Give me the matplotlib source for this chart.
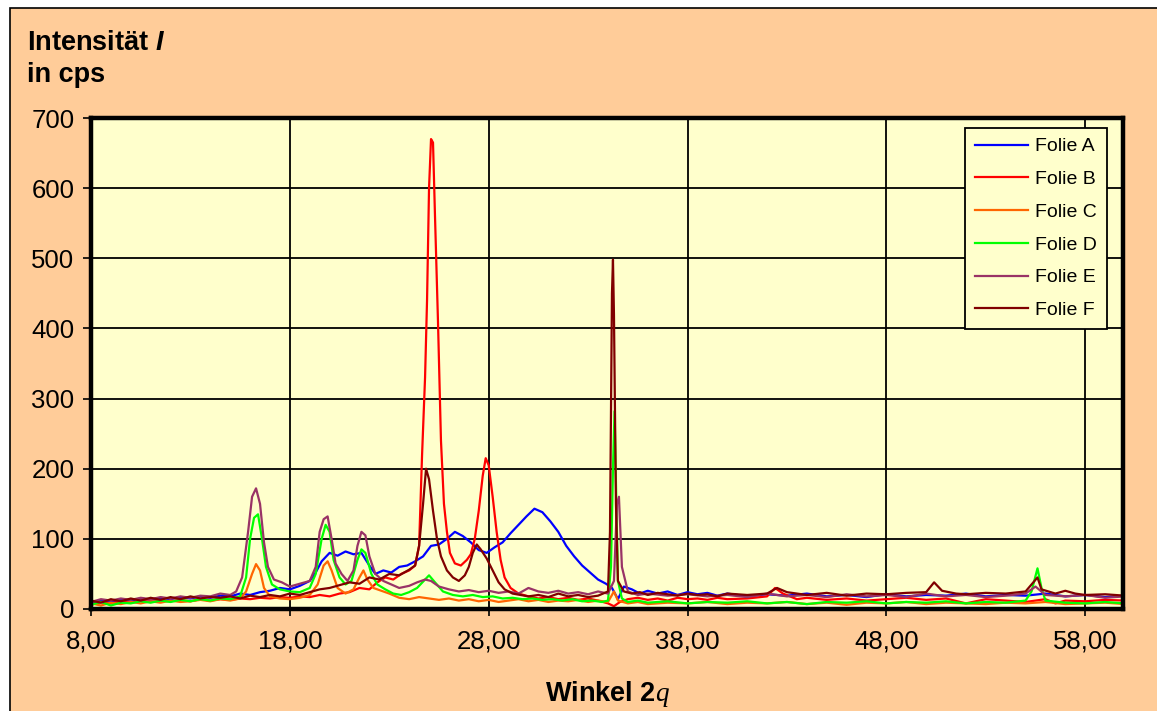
import matplotlib
matplotlib.use("Agg")
from matplotlib import pyplot as plt
from matplotlib.patches import Rectangle
from matplotlib.ticker import FuncFormatter

# Folie A (blau)
a_x = [8.0, 8.5, 9.0, 9.5, 10.0, 10.5, 11.0, 11.5, 12.0, 12.5, 13.0, 13.5, 14.0, 14.5, 15.0, 15.5,
       16.0, 16.5, 17.0, 17.5, 18.0, 18.5, 19.0, 19.3, 19.6, 20.0, 20.4, 20.8, 21.2, 21.6, 22.0, 22.3,
       22.7, 23.1, 23.5, 23.9, 24.3, 24.7, 25.1, 25.5, 25.9, 26.3, 26.7, 27.1, 27.5, 27.9, 28.3, 28.7,
       29.1, 29.5, 29.9, 30.3, 30.7, 31.1, 31.5, 31.9, 32.3, 32.7, 33.1, 33.5, 33.9, 34.2, 34.5, 34.8,
       35.2, 35.6, 36.0, 36.5, 37.0, 37.5, 38.0, 38.5, 39.0, 39.5, 40, 41, 42, 43, 44, 45, 46, 47, 48,
       49, 50, 51, 52, 53, 54, 55, 56, 57, 58, 59, 60]
a_y = [8, 12, 10, 13, 12, 15, 13, 16, 14, 17, 15, 18, 16, 19, 18, 22,
       20, 24, 26, 30, 28, 33, 40, 52, 68, 80, 76, 82, 78, 80, 62, 50,
       55, 52, 60, 62, 68, 75, 90, 92, 100, 110, 104, 95, 84, 80, 88, 95,
       108, 120, 132, 143, 138, 125, 110, 90, 75, 62, 52, 42, 36, 30, 14, 32,
       28, 22, 26, 22, 25, 20, 24, 21, 23, 19, 22, 18, 21, 19, 22, 18, 20, 17, 21,
       18, 20, 19, 22, 18, 20, 19, 22, 18, 20, 17, 19]

# Folie B (rot)
b_x = [8.0, 8.5, 9.0, 9.5, 10.0, 10.5, 11.0, 11.5, 12.0, 12.5, 13.0, 13.5, 14.0, 14.5, 15.0, 15.5,
       16.0, 16.5, 17.0, 17.5, 18.0, 18.5, 19.0, 19.5, 20.0, 20.5, 21.0, 21.5, 22.0, 22.4, 22.8, 23.2,
       23.6, 24.0, 24.3, 24.5, 24.65, 24.8, 24.9, 25.0, 25.1, 25.2, 25.3, 25.45, 25.6, 25.75, 25.9,
       26.05, 26.3, 26.6, 26.9, 27.1, 27.3, 27.5, 27.7, 27.85, 28.0, 28.2, 28.4, 28.6, 28.8, 29.1,
       29.5, 30.0, 30.5, 31.0, 31.5, 32.0, 32.5, 33.0, 33.5, 34.0, 34.3, 34.6, 35.0, 35.5, 36.0, 36.5,
       37.0, 37.5, 38.0, 38.5, 39.0, 39.5, 40, 41, 42, 42.4, 42.8, 43.5, 44, 45, 46, 47, 48, 49, 50,
       51, 52, 53, 54, 55, 56, 56.5, 57, 58, 59, 60]
b_y = [6, 10, 8, 11, 9, 12, 10, 12, 11, 13, 11, 14, 12, 14, 13, 15,
       14, 16, 15, 17, 16, 18, 17, 20, 18, 22, 24, 30, 28, 38, 45, 42,
       50, 55, 62, 90, 220, 330, 440, 600, 670, 665, 560, 410, 240, 150, 110,
       80, 65, 62, 70, 78, 100, 140, 190, 215, 205, 160, 110, 70, 45, 30,
       22, 18, 15, 17, 14, 16, 13, 15, 12, 8, 4, 10, 14, 16, 13, 15,
       12, 16, 14, 15, 13, 16, 14, 15, 18, 30, 22, 14, 16, 13, 15, 12, 14, 16, 13,
       15, 8, 14, 12, 10, 14, 8, 12, 11, 13, 12]

# Folie C (orange)
c_x = [8.0, 8.5, 9.0, 9.5, 10.0, 10.5, 11.0, 11.5, 12.0, 12.5, 13.0, 13.5, 14.0, 14.5, 15.0, 15.5,
       15.8, 16.1, 16.3, 16.5, 16.7, 17.0, 17.5, 18.0, 18.5, 19.0, 19.4, 19.7, 19.9, 20.1, 20.4, 20.8,
       21.2, 21.5, 21.7, 21.9, 22.2, 22.6, 23.0, 23.5, 24.0, 24.5, 25.0, 25.5, 26.0, 26.5, 27.0, 27.5,
       28.0, 28.5, 29.0, 29.5, 30.0, 30.5, 31.0, 31.5, 32.0, 32.5, 33.0, 33.5, 34.0, 34.3, 34.5, 35.0,
       35.5, 36, 37, 38, 39, 40, 41, 42, 43, 44, 45, 46, 47, 48, 49, 50, 51, 52, 53, 54, 55, 56, 57,
       58, 59, 60]
c_y = [8, 5, 9, 7, 10, 8, 11, 9, 12, 10, 11, 13, 11, 14, 12, 15,
       25, 50, 64, 55, 30, 18, 15, 14, 16, 20, 35, 62, 68, 55, 30, 22,
       28, 45, 55, 42, 30, 26, 22, 16, 14, 17, 15, 13, 15, 12, 14, 11,
       13, 10, 12, 14, 11, 13, 10, 12, 11, 13, 10, 12, 10, 25, 12, 8,
       10, 7, 9, 8, 10, 7, 9, 8, 10, 7, 9, 6, 9, 8, 10, 7, 9, 8, 7, 9, 8, 10, 7,
       8, 9, 7]

# Folie D (gruen)
d_x = [8.0, 8.5, 9.0, 9.5, 10.0, 10.5, 11.0, 11.5, 12.0, 12.5, 13.0, 13.5, 14.0, 14.5, 15.0, 15.5,
       15.8, 16.0, 16.2, 16.4, 16.6, 16.8, 17.1, 17.5, 18.0, 18.5, 19.0, 19.3, 19.6, 19.8, 20.0, 20.2,
       20.5, 20.8, 21.1, 21.4, 21.6, 21.8, 22.1, 22.4, 22.8, 23.2, 23.6, 24.0, 24.4, 24.8, 25.0, 25.3,
       25.7, 26.2, 26.7, 27.2, 27.7, 28.2, 28.7, 29.2, 29.7, 30.2, 30.7, 31.2, 31.7, 32.2, 32.7, 33.2,
       33.7, 34.0, 34.15, 34.25, 34.33, 34.4, 34.5, 34.7, 35.0, 35.5, 36, 37, 38, 39, 40, 41, 42, 43,
       44, 45, 46, 47, 48, 49, 50, 51, 52, 53, 54, 55, 55.3, 55.6, 55.8, 56, 57, 58, 59, 60]
d_y = [6, 10, 5, 9, 8, 11, 9, 12, 10, 13, 11, 14, 12, 15, 14, 18,
       45, 100, 130, 135, 100, 60, 35, 28, 25, 24, 30, 50, 100, 120, 110, 70,
       45, 35, 40, 70, 85, 80, 50, 35, 28, 22, 20, 24, 30, 42, 48, 38,
       25, 20, 18, 20, 17, 18, 15, 16, 14, 15, 13, 14, 12, 14, 11, 12,
       10, 12, 60, 200, 282, 180, 40, 15, 10, 12, 9, 11, 8, 10, 9, 11, 8, 10,
       7, 10, 9, 11, 8, 10, 9, 11, 8, 10, 9, 12, 25, 58, 30, 12, 9, 8, 10, 8]

# Folie E (violett)
e_x = [8.0, 8.5, 9.0, 9.5, 10.0, 10.5, 11.0, 11.5, 12.0, 12.5, 13.0, 13.5, 14.0, 14.5, 15.0, 15.3,
       15.6, 15.9, 16.1, 16.3, 16.5, 16.7, 16.9, 17.2, 17.6, 18.0, 18.5, 19.0, 19.3, 19.5, 19.7, 19.9,
       20.1, 20.3, 20.6, 20.9, 21.2, 21.4, 21.6, 21.8, 22.0, 22.3, 22.7, 23.1, 23.5, 24.0, 24.4, 24.8,
       25.1, 25.5, 26.0, 26.5, 27.0, 27.5, 28.0, 28.5, 29.0, 29.5, 30.0, 30.5, 31.0, 31.5, 32.0, 32.5,
       33.0, 33.5, 34.0, 34.3, 34.45, 34.55, 34.7, 35.0, 35.5, 36, 37, 38, 39, 40, 41, 42, 43, 44, 45,
       46, 47, 48, 49, 50, 51, 52, 53, 54, 55, 55.5, 56, 57, 58, 59, 60]
e_y = [10, 14, 12, 15, 13, 16, 14, 17, 15, 18, 16, 19, 18, 22, 20, 25,
       45, 110, 160, 172, 150, 95, 60, 42, 38, 32, 36, 40, 60, 110, 128, 132,
       100, 65, 50, 40, 55, 90, 110, 105, 75, 50, 40, 35, 30, 33, 38, 42,
       40, 32, 28, 25, 27, 24, 26, 23, 25, 22, 30, 25, 23, 26, 22, 24,
       21, 25, 22, 40, 150, 160, 60, 25, 20, 22, 19, 21, 18, 20, 17, 22, 18, 20, 17,
       21, 18, 20, 17, 22, 18, 20, 17, 19, 22, 32, 20, 18, 20, 16, 18]

# Folie F (dunkelrot)
f_x = [8.0, 8.5, 9.0, 9.5, 10.0, 10.5, 11.0, 11.5, 12.0, 12.5, 13.0, 13.5, 14.0, 14.5, 15.0, 15.5,
       16.0, 16.5, 17.0, 17.5, 18.0, 18.5, 19.0, 19.5, 20.0, 20.5, 21.0, 21.5, 22.0, 22.5, 23.0, 23.5,
       24.0, 24.3, 24.5, 24.7, 24.85, 25.0, 25.2, 25.4, 25.6, 25.9, 26.2, 26.5, 26.8, 27.0, 27.2, 27.4,
       27.6, 27.9, 28.2, 28.5, 28.8, 29.2, 29.6, 30.0, 30.5, 31.0, 31.5, 32.0, 32.5, 33.0, 33.5, 34.0,
       34.1, 34.2, 34.25, 34.3, 34.4, 34.5, 34.8, 35.2, 35.6, 36.0, 36.5, 37.0, 37.5, 38.0, 38.5, 39.0,
       39.5, 40, 41, 42, 42.5, 43, 44, 45, 46, 47, 48, 49, 50, 50.4, 50.8, 51.5, 52, 53, 54, 55, 55.3,
       55.6, 55.8, 56.5, 57, 57.5, 58, 59, 60]
f_y = [12, 9, 14, 11, 15, 12, 16, 13, 17, 14, 18, 15, 17, 16, 18, 15,
       19, 17, 20, 18, 22, 20, 24, 28, 30, 34, 38, 36, 45, 42, 50, 48,
       56, 62, 90, 150, 200, 185, 140, 100, 75, 55, 45, 40, 48, 60, 80, 92,
       85, 72, 55, 38, 28, 22, 20, 18, 20, 17, 22, 18, 20, 17, 19, 25,
       110, 450, 498, 420, 150, 40, 25, 22, 24, 20, 23, 21, 19, 22, 20, 21,
       18, 22, 20, 22, 30, 24, 20, 23, 19, 22, 21, 23, 24, 38, 26, 22, 21, 23, 22, 25, 35,
       45, 28, 22, 26, 22, 20, 21, 19]

series = [("Folie A", a_x, a_y, "#0000FF"),
          ("Folie B", b_x, b_y, "#FF0000"),
          ("Folie C", c_x, c_y, "#FF6600"),
          ("Folie D", d_x, d_y, "#00FF00"),
          ("Folie E", e_x, e_y, "#993366"),
          ("Folie F", f_x, f_y, "#800000")]

x_ticks = [8, 18, 28, 38, 48, 58]
y_ticks = [0, 100, 200, 300, 400, 500, 600, 700]

plt.rcParams['font.family'] = ['Liberation Sans', 'DejaVu Sans']
plt.rcParams['mathtext.fontset'] = 'custom'
plt.rcParams['mathtext.it'] = 'Liberation Sans:italic:bold'
plt.rcParams['mathtext.rm'] = 'Liberation Serif:italic'

W, H = 1157, 711
fig = plt.figure(figsize=(W / 100, H / 100), dpi=100, facecolor="white")
# Hintergrund (pfirsich) mit schwarzem Rand links/oben
fig.patches.append(Rectangle((10 / W, -0.01), 1.0, 1 - 8 / H + 0.01, transform=fig.transFigure,
                             facecolor="#FFCC99", edgecolor="black", linewidth=1.2, zorder=-10))

ax = fig.add_axes([91 / W, 1 - 609 / H, (1123 - 91) / W, (609 - 118) / H])
ax.set_facecolor("#FFFFCC")

for name, xs, ys, col in series:
    ax.plot(xs, ys, color=col, lw=1.6, label=name)

ax.set_xlim(8, 59.9)
ax.set_ylim(0, 700)
ax.set_xticks(x_ticks)
ax.set_yticks(y_ticks)
ax.xaxis.set_major_formatter(FuncFormatter(lambda v, p: f"{v:.2f}".replace(".", ",")))
ax.tick_params(axis="x", labelsize=18.5, length=5, width=1.2, pad=10, direction="out")
ax.tick_params(axis="y", labelsize=18.5, length=6, width=1.2, pad=6, direction="out")
ax.set_axisbelow(True)
ax.grid(True, color="black", lw=1.3)
for s in ax.spines.values():
    s.set_linewidth(3.2)
    s.set_color("black")

leg = ax.legend(loc="upper right", bbox_to_anchor=(0.9845, 0.9796), borderaxespad=0,
                fontsize=14, handlelength=2.7, labelspacing=0.78, fancybox=False,
                framealpha=1, facecolor="#FFFFCC", edgecolor="black", borderpad=0.5,
                handletextpad=0.4)
leg.get_frame().set_linewidth(1.3)

fig.text(27 / W, 1 - 50 / H, r"Intensität $I$", fontsize=19.5, fontweight="bold", va="baseline")
fig.text(27 / W, 1 - 82 / H, "in cps", fontsize=19.5, fontweight="bold", va="baseline")
fig.text(607 / W, 1 - 701 / H, r"Winkel 2$\mathrm{q}$", fontsize=19.5, fontweight="bold",
         ha="center", va="baseline")

fig.savefig("out.png", dpi=100, facecolor=fig.get_facecolor())
